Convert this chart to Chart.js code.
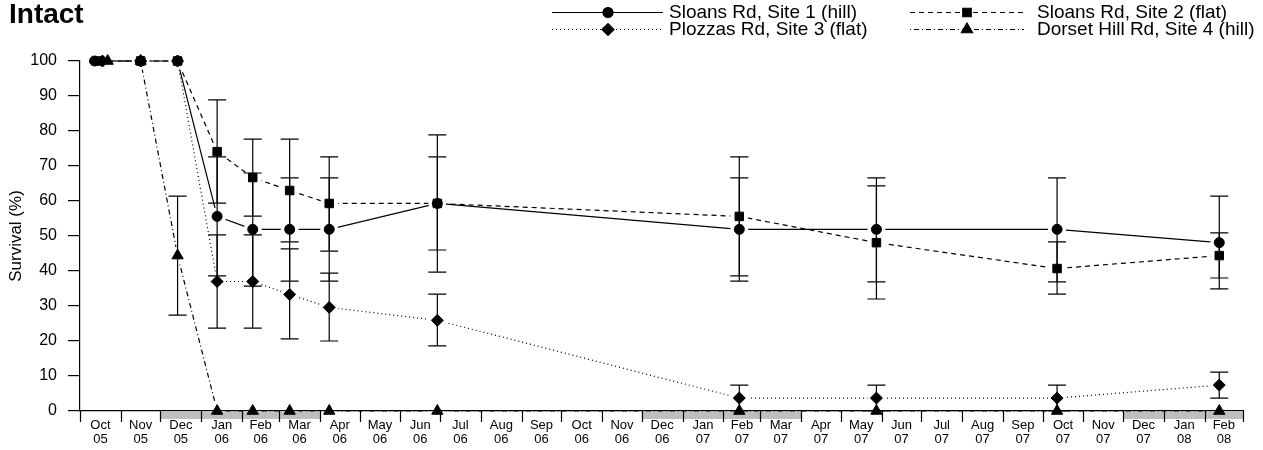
<!DOCTYPE html>
<html>
<head>
<meta charset="utf-8">
<script src="https://cdn.jsdelivr.net/npm/chart.js@4/dist/chart.umd.min.js"></script>
<style>
html,body{margin:0;padding:0;background:#fff;}
#wrap{width:1263px;height:450px;position:relative;}
canvas{display:block;}
</style>
</head>
<body>
<div id="wrap"><canvas id="c" width="1263" height="450"></canvas></div>
<script>
// ---------- data ----------
const chartTitle = 'Intact';
const yAxisTitle = 'Survival (%)';
const seriesNames = ['Sloans Rd, Site 1 (hill)', 'Sloans Rd, Site 2 (flat)', 'Plozzas Rd, Site 3 (flat)', 'Dorset Hill Rd, Site 4 (hill)'];

const monthLabels = ['Oct','Nov','Dec','Jan','Feb','Mar','Apr','May','Jun','Jul','Aug','Sep',
                     'Oct','Nov','Dec','Jan','Feb','Mar','Apr','May','Jun','Jul','Aug','Sep',
                     'Oct','Nov','Dec','Jan','Feb'];
const yearLabels  = ['05','05','05','06','06','06','06','06','06','06','06','06',
                     '06','06','06','07','07','07','07','07','07','07','07','07',
                     '07','07','07','08','08'];
const shadedMonths = ['Dec','Jan','Feb','Mar'];

const laterDates = ['2005-11-16','2005-12-14','2006-01-13','2006-02-09','2006-03-09','2006-04-08','2006-06-29',
                    '2007-02-13','2007-05-28','2007-10-12','2008-02-12'];
const dates1 = ['2005-10-12'].concat(laterDates);
const dates2 = ['2005-10-16'].concat(laterDates);
const dates3 = ['2005-10-18'].concat(laterDates);
const dates4 = ['2005-10-22'].concat(laterDates);

const site1   = [100, 100, 100, 55.6, 51.9, 51.9, 51.9, 59.3, 51.9, 51.9, 51.9, 48.1];
const site1Lo = [null, null, null, 38.6, 35.7, 37.1, 37.1, 39.7, 37.1, 36.9, 36.9, 34.9];
const site1Hi = [null, null, null, 72.6, 68.0, 66.6, 66.6, 78.9, 66.6, 66.6, 66.6, 61.4];

const site2   = [100, 100, 100, 74.1, 66.7, 63.0, 59.3, 59.3, 55.6, 48.1, 40.7, 44.4];
const site2Lo = [null, null, null, 59.4, 55.7, 48.3, 45.7, 46.0, 38.6, 32.0, 33.4, 38.0];
const site2Hi = [null, null, null, 88.9, 77.7, 77.7, 72.6, 72.6, 72.6, 64.3, 48.3, 50.9];

const site3   = [100, 100, 100, 37.0, 37.0, 33.3, 29.6, 25.9, 3.7, 3.7, 3.7, 7.4];
const site3Lo = [null, null, null, 23.7, 23.7, 20.6, 20.0, 18.6, 0, 0, 0, 3.7];
const site3Hi = [null, null, null, 50.3, 50.3, 46.3, 39.4, 33.4, 7.4, 7.4, 7.4, 11.1];

const site4   = [100, 100, 44.4, 0, 0, 0, 0, 0, 0, 0, 0, 0];
const site4Lo = [null, null, 27.4, null, null, null, null, null, null, null, null, null];
const site4Hi = [null, null, 61.4, null, null, null, null, null, null, null, null, null];

// ---------- helpers ----------
const FONT = "'Liberation Sans', Arial, Helvetica, sans-serif";
const ORIGIN = Date.UTC(2005, 9, 1);
function dayOf(s){ const p = s.split('-').map(Number); return (Date.UTC(p[0], p[1]-1, p[2]) - ORIGIN)/86400000; }
const monthStarts = [];
for (let i = 0; i <= monthLabels.length; i++) monthStarts.push((Date.UTC(2005, 9 + i, 1) - ORIGIN)/86400000);
const monthMids = monthLabels.map((m, i) => (monthStarts[i] + monthStarts[i+1]) / 2);
const totalDays = monthStarts[monthStarts.length - 1];

const series = [
  {name: seriesNames[0], dates: dates1, v: site1, lo: site1Lo, hi: site1Hi, dash: [],          style: 'circle',   r: 5},
  {name: seriesNames[1], dates: dates2, v: site2, lo: site2Lo, hi: site2Hi, dash: [5, 4],      style: 'rect',     r: 6},
  {name: seriesNames[2], dates: dates3, v: site3, lo: site3Lo, hi: site3Hi, dash: [1, 3],      style: 'rectRot',  r: 6},
  {name: seriesNames[3], dates: dates4, v: site4, lo: site4Lo, hi: site4Hi, dash: [1, 3, 5, 3], style: 'triangle', r: 6.5}
];
const pts = s => s.dates.map((d, i) => ({x: dayOf(d), y: s.v[i]}));

const datasets = [];
series.forEach((s, k) => {
  datasets.push({
    label: s.name + ' line', data: pts(s), _gapLine: true,
    borderColor: '#000', borderWidth: 1.2, borderDash: s.dash, pointRadius: 0,
    fill: false, tension: 0, clip: false, order: 10 + k
  });
});
series.forEach((s, k) => {
  datasets.push({
    label: s.name, data: pts(s), showLine: false,
    pointStyle: s.style, pointRadius: s.r, pointBackgroundColor: '#000',
    pointBorderColor: '#000', pointBorderWidth: 1, clip: false, order: k
  });
});

// ---------- plugins ----------
const GAP = 9;
const gapPlugin = {
  id: 'gapPlugin',
  beforeDatasetDraw(chart, args) {
    const ds = chart.data.datasets[args.index];
    if (!ds._gapLine) return;
    const ctx = chart.ctx;
    const meta = args.meta;
    ctx.save();
    ctx.beginPath();
    ctx.rect(0, 0, chart.width, chart.height);
    meta.data.forEach(p => {
      ctx.moveTo(p.x + GAP, p.y);
      ctx.arc(p.x, p.y, GAP, 0, Math.PI * 2, true);
    });
    ctx.clip('evenodd');
  },
  afterDatasetDraw(chart, args) {
    const ds = chart.data.datasets[args.index];
    if (!ds._gapLine) return;
    chart.ctx.restore();
  }
};

const monthPlugin = {
  id: 'monthPlugin',
  beforeDatasetsDraw(chart) {
    const ctx = chart.ctx, xs = chart.scales.x;
    const base = chart.chartArea.bottom;
    ctx.save();
    ctx.fillStyle = '#bebebe';
    monthLabels.forEach((m, i) => {
      if (shadedMonths.includes(m)) {
        const x0 = xs.getPixelForValue(monthStarts[i]);
        const x1 = xs.getPixelForValue(monthStarts[i+1]);
        ctx.fillRect(x0, base + 1, x1 - x0, 7);
      }
    });
    ctx.strokeStyle = '#000';
    ctx.lineWidth = 1.2;
    ctx.beginPath();
    monthStarts.forEach(d => {
      const x = Math.round(xs.getPixelForValue(d)) + 0.5;
      ctx.moveTo(x, base);
      ctx.lineTo(x, base + 11);
    });
    ctx.stroke();
    ctx.restore();
  }
};

const errorPlugin = {
  id: 'errorPlugin',
  afterDatasetsDraw(chart) {
    const ctx = chart.ctx, xs = chart.scales.x, ys = chart.scales.y;
    ctx.save();
    ctx.strokeStyle = '#000';
    ctx.lineWidth = 1.2;
    ctx.setLineDash([]);
    series.forEach(s => {
      s.dates.forEach((d, i) => {
        if (s.lo[i] === null || s.hi[i] === null) return;
        const x = xs.getPixelForValue(dayOf(d));
        const y0 = ys.getPixelForValue(s.lo[i]);
        const y1 = ys.getPixelForValue(s.hi[i]);
        ctx.beginPath();
        ctx.moveTo(x, y0); ctx.lineTo(x, y1);
        ctx.moveTo(x - 9, y0); ctx.lineTo(x + 9, y0);
        ctx.moveTo(x - 9, y1); ctx.lineTo(x + 9, y1);
        ctx.stroke();
      });
    });
    ctx.restore();
  }
};

const textPlugin = {
  id: 'textPlugin',
  afterDraw(chart) {
    const ctx = chart.ctx;
    ctx.save();
    // title
    ctx.fillStyle = '#000';
    ctx.font = 'bold 28px ' + FONT;
    ctx.textAlign = 'left';
    ctx.textBaseline = 'alphabetic';
    ctx.fillText(chartTitle, 9, 23);
    // y title
    ctx.save();
    ctx.translate(16, (chart.chartArea.top + chart.chartArea.bottom) / 2);
    ctx.rotate(-Math.PI / 2);
    ctx.font = '17px ' + FONT;
    ctx.textAlign = 'center';
    ctx.textBaseline = 'middle';
    ctx.fillText(yAxisTitle, 0, 0);
    ctx.restore();
    // legend
    const cols = [{x0: 552, x1: 663, mx: 608, tx: 669}, {x0: 910, x1: 1024, mx: 967, tx: 1037}];
    const rows = [12, 29];
    const place = [[0, 0], [1, 0], [0, 1], [1, 1]];
    ctx.font = '19px ' + FONT;
    ctx.textBaseline = 'middle';
    ctx.textAlign = 'left';
    series.forEach((s, k) => {
      const c = cols[place[k][0]], y = rows[place[k][1]];
      ctx.strokeStyle = '#000';
      ctx.lineWidth = 1.2;
      ctx.setLineDash(s.dash);
      ctx.beginPath();
      ctx.moveTo(c.x0, y + 0.5); ctx.lineTo(c.x1, y + 0.5);
      ctx.stroke();
      ctx.setLineDash([]);
      ctx.fillStyle = '#000';
      Chart.helpers.drawPoint(ctx, {pointStyle: s.style, radius: s.r, rotation: 0, borderWidth: 1}, c.mx, y + 0.5);
      ctx.fillStyle = '#000';
      ctx.fillText(s.name, c.tx, y + 1);
    });
    ctx.restore();
  }
};

Chart.defaults.font.family = FONT;
Chart.defaults.color = '#000';

new Chart(document.getElementById('c'), {
  type: 'line',
  data: {datasets},
  plugins: [gapPlugin, monthPlugin, errorPlugin, textPlugin],
  options: {
    responsive: false,
    animation: false,
    devicePixelRatio: 1,
    events: [],
    layout: {padding: {top: 61, right: 20, left: 0, bottom: 0}},
    plugins: {legend: {display: false}, title: {display: false}, tooltip: {enabled: false}},
    scales: {
      x: {
        type: 'linear', min: 0, max: totalDays,
        afterBuildTicks: s => { s.ticks = monthMids.map(v => ({value: v})); },
        afterFit: s => { s.height = 39; },
        grid: {display: false, drawTicks: false},
        border: {display: true, color: '#000', width: 1.2},
        ticks: {
          autoSkip: false, maxRotation: 0, minRotation: 0, padding: 7, color: '#000',
          font: {size: 13, lineHeight: 1.12},
          callback: (v, i) => [monthLabels[i], yearLabels[i]]
        }
      },
      y: {
        min: 0, max: 100,
        afterFit: s => { s.width = 80; },
        ticks: {stepSize: 10, padding: 11, color: '#000', font: {size: 16}},
        grid: {drawOnChartArea: false, drawTicks: true, tickLength: 12, color: '#000', lineWidth: 1.2},
        border: {display: true, color: '#000', width: 1.2}
      }
    }
  }
});
</script>
</body>
</html>
